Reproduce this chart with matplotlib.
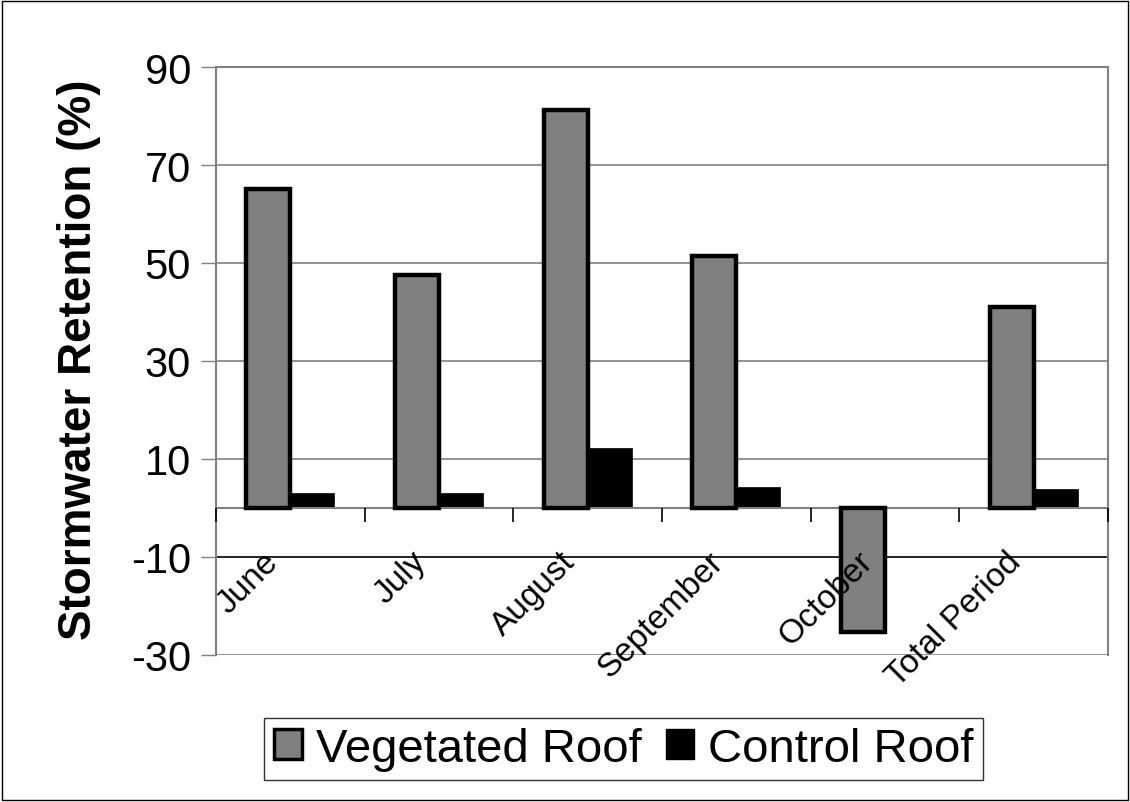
import numpy as np
import matplotlib
matplotlib.use('Agg')
import matplotlib.pyplot as plt
from matplotlib.patches import Patch, Rectangle

plt.rcParams['font.family'] = ['Liberation Sans', 'DejaVu Sans']

# data
months = ['June', 'July', 'August', 'September', 'October', 'Total Period']
vegetated = [65.2, 47.6, 81.3, 51.4, -25.3, 41.0]
control = [3.0, 3.0, 12.2, 4.3, 0.0, 3.9]
y_ticks = [90, 70, 50, 30, 10, -10, -30]

veg_color = '#808080'
ctrl_color = '#000000'
grid_color = '#808080'

fig = plt.figure(figsize=(11.3, 8.03), dpi=100)
ax = fig.add_axes([0.1912, 0.1831, 0.7894, 0.7322])

x = np.arange(len(months))
w = 0.296
ax.bar(x - w, vegetated, width=w, align='edge', color=veg_color,
       edgecolor='black', linewidth=3.2, zorder=3)
ax.bar(x, control, width=w, align='edge', color=ctrl_color,
       edgecolor='black', linewidth=0.5, zorder=2)

ax.set_xlim(-0.5, len(months) - 0.5)
ax.set_ylim(-30, 90)

# y axis
ax.set_yticks(y_ticks)
ax.set_yticklabels([str(v) for v in y_ticks], fontsize=30)
ax.tick_params(axis='y', length=11, width=1, color=grid_color, pad=7,
               direction='out')
for v in y_ticks:
    ax.axhline(v, color='black' if v == -10 else grid_color,
               linewidth=1.2, zorder=1)

# x axis at zero, labels drawn over the bars
ax.spines['bottom'].set_position(('data', 0))
ax.spines['bottom'].set_color(grid_color)
ax.spines['bottom'].set_linewidth(1.5)
ax.set_xticks(x - 0.19)
ax.set_xticklabels(months, fontsize=24, rotation=45, ha='right', va='top',
                   rotation_mode='anchor')
ax.tick_params(axis='x', which='major', length=0, pad=27)
ax.set_xticks(np.arange(-0.5, len(months) + 0.5, 1), minor=True)
ax.tick_params(axis='x', which='minor', length=10, width=1.2, color='black',
               direction='out')
ax.xaxis.set_zorder(5)

for s in ['left', 'top', 'right']:
    ax.spines[s].set_color(grid_color)
    ax.spines[s].set_linewidth(1.5)

fig.text(79 / 1130, 1 - 360 / 803, 'Stormwater Retention (%)', rotation=90,
         fontsize=33, fontweight='bold', ha='center', va='center')

handles = [Patch(facecolor=veg_color, edgecolor='black', linewidth=2.5),
           Patch(facecolor=ctrl_color, edgecolor='black')]
leg = fig.legend(handles, ['Vegetated Roof', 'Control Roof'], loc='center',
                 bbox_to_anchor=(0.552, 0.066), ncol=2,
                 prop={'family': ['Liberation Sans Narrow', 'Liberation Sans'], 'size': 34},
                 frameon=True, fancybox=False, handlelength=0.6,
                 handleheight=0.6, handletextpad=0.3, columnspacing=0.5,
                 borderpad=0.2)
leg.get_frame().set_edgecolor('black')
leg.get_frame().set_linewidth(1)

fig.patches.append(Rectangle((0.002, 0.002), 0.996, 0.996, transform=fig.transFigure,
                             fill=False, edgecolor='black', linewidth=1))

fig.savefig('out.png', dpi=100)
